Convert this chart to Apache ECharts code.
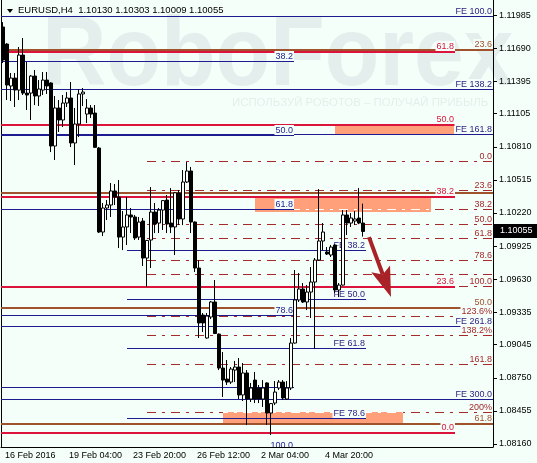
<!DOCTYPE html>
<html><head><meta charset="utf-8">
<script src="https://cdn.jsdelivr.net/npm/echarts@6/dist/echarts.min.js"></script>
<style>html,body{margin:0;padding:0;background:#F5FFFA}#c{width:537px;height:463px}</style>
</head><body><div id="c"></div>
<script>
// ---------- DATA ----------
const symbolName = 'EURUSD,H4';
const lastQuote = ['1.10130', '1.10303', '1.10009', '1.10055'];

const open = [1.11878,1.11726,1.11352,1.11423,1.11316,1.11628,1.11289,1.11289,1.11441,1.11263,
1.11316,1.11405,1.11379,1.10817,1.11156,1.11049,1.11200,1.11245,1.10844,1.11013,
1.11281,1.11102,1.11156,1.11111,1.10799,1.10050,1.10264,1.10291,1.10416,1.10362,
1.10005,1.10095,1.10202,1.10184,1.10005,1.10148,1.09818,1.09979,1.10228,1.10130,
1.10246,1.10335,1.10130,1.10095,1.10398,1.10166,1.10496,1.10594,1.10139,1.09729,
1.09310,1.09105,1.09292,1.09426,1.09140,1.08837,1.08739,1.08712,1.08819,1.08846,
1.08597,1.08793,1.08561,1.08730,1.08659,1.08561,1.08704,1.08436,1.08525,1.08659,
1.08712,1.08561,1.08659,1.09060,1.09444,1.09542,1.09426,1.09515,1.09604,1.09800,
1.09970,1.09872,1.09845,1.09934,1.09533,1.09577,1.10202,1.10130,1.10148,1.10175,
1.10130];
const high = [1.11922,1.11735,1.11468,1.11468,1.11700,1.11780,1.11566,1.11450,1.11495,1.11405,
1.11477,1.11477,1.11385,1.11263,1.11227,1.11272,1.11298,1.11388,1.11156,1.11325,
1.11334,1.11236,1.11182,1.11182,1.10808,1.10309,1.10335,1.10487,1.10478,1.10514,
1.10237,1.10362,1.10264,1.10202,1.10184,1.10175,1.09979,1.10451,1.10309,1.10264,
1.10335,1.10380,1.10442,1.10407,1.10425,1.10603,1.10674,1.10630,1.10145,1.09800,
1.09328,1.09328,1.09435,1.09622,1.09145,1.08980,1.08909,1.08846,1.08900,1.08926,
1.08882,1.08819,1.08704,1.08802,1.08686,1.08730,1.08710,1.08525,1.08721,1.08730,
1.08730,1.08721,1.09105,1.09711,1.09684,1.09595,1.09577,1.09738,1.09818,1.10433,
1.10130,1.09916,1.09934,1.09940,1.09595,1.10246,1.10246,1.10219,1.10237,1.10442,
1.10303];
const low = [1.11557,1.11227,1.11218,1.11165,1.11227,1.11272,1.11138,1.11049,1.11182,1.11174,
1.11272,1.11281,1.10763,1.10692,1.10942,1.10986,1.11165,1.10808,1.10647,1.10897,
1.11174,1.11022,1.11067,1.10799,1.10041,1.10014,1.10157,1.10184,1.10291,1.09907,
1.09889,1.09934,1.10041,1.09979,1.09979,1.09747,1.09560,1.09729,1.10041,1.10041,
1.10068,1.10041,1.10041,1.09845,1.10112,1.10112,1.10487,1.10041,1.09693,1.09105,
1.09158,1.09100,1.09274,1.09140,1.08819,1.08579,1.08686,1.08695,1.08712,1.08561,
1.08543,1.08329,1.08534,1.08525,1.08525,1.08490,1.08329,1.08240,1.08507,1.08641,
1.08552,1.08552,1.08641,1.09055,1.09426,1.09417,1.09354,1.09283,1.09007,1.09795,
1.09889,1.09845,1.09827,1.09506,1.09470,1.09572,1.10023,1.10095,1.10112,1.10120,
1.10009];
const close = [1.11584,1.11361,1.11423,1.11316,1.11628,1.11289,1.11272,1.11441,1.11263,1.11325,
1.11405,1.11352,1.10817,1.11156,1.11049,1.11200,1.11245,1.10844,1.11013,1.11281,
1.11298,1.11156,1.11102,1.10805,1.10050,1.10264,1.10291,1.10416,1.10362,1.10005,
1.10095,1.10202,1.10184,1.09997,1.10139,1.09818,1.09975,1.10228,1.10121,1.10246,
1.10330,1.10121,1.10095,1.10400,1.10166,1.10496,1.10594,1.10139,1.09729,1.09239,
1.09239,1.09301,1.09426,1.09145,1.08837,1.08730,1.08712,1.08828,1.08846,1.08597,
1.08793,1.08561,1.08659,1.08561,1.08561,1.08659,1.08436,1.08520,1.08623,1.08712,
1.08570,1.08659,1.09060,1.09444,1.09542,1.09426,1.09515,1.09604,1.09800,1.09970,
1.10050,1.09854,1.09916,1.09533,1.09577,1.10202,1.10130,1.10175,1.10166,1.10130,
1.10055];

const barSlots = 123;              // visible bar slots (incl. right shift)
const priceMin = 1.08133, priceMax = 1.12119;
const xTickIndex  = [0, 16, 32, 48, 64, 80];
const xTickLabels = ['16 Feb 2016', '19 Feb 04:00', '23 Feb 20:00', '26 Feb 12:00', '2 Mar 04:00', '4 Mar 20:00'];
const yTickValues = [1.08160, 1.08455, 1.08750, 1.09045, 1.09335, 1.09630, 1.09925, 1.10220, 1.10515, 1.10810, 1.11105, 1.11395, 1.11690, 1.11985];

// Fibonacci objects: [startBar, endBar, price at 0%, price at 100%]
const brownFibo  = [0, 123, 1.13732, 1.05009];
const brownLevels = [23.6, 38.2, 50, 61.8];
const brownLabels = ['23.6', '', '50.0', '61.8'];

const redFibo  = [0, 113.5, 1.08260, 1.13754];
const redLevels = [0, 23.6, 38.2, 50, 61.8];
const redLabels = ['0.0', '23.6', '38.2', '50.0', '61.8'];

const navyFibo  = [0, 73.25, 1.13715, 1.08105];
const navyLevels = [38.2, 50, 61.8, 78.6, 90, 100];
const navyLabels = ['38.2', '50.0', '61.8', '78.6', '', '100.0'];

const dashFibo  = [36.5, 123, 1.10683, 1.09560];
const dashLevels = [0, 23.6, 38.2, 50, 61.8, 78.6, 90, 100, 123.6, 138.2, 161.8, 200];
const dashLabels = ['0.0', '23.6', '38.2', '50.0', '61.8', '78.6', '', '100.0', '123.6%', '138.2%', '161.8', '200%'];

const feLongDef    = [0, 123, 1.13685, 1.11976];
const feLongLevels = [100, 138.2, 161.8, 261.8, 300];
const feLongLabels = ['FE 100.0', 'FE 138.2', 'FE 161.8', 'FE 261.8', 'FE 300.0'];

const feShortDef    = [31.5, 91.25, 1.11310, 1.07590];
const feShortLevels = [38.2, 50, 61.8, 78.6];
const feShortLabels = ['FE 38.2', 'FE 50.0', 'FE 61.8', 'FE 78.6'];

// zones: [startBar, endBar, top price, bottom price]
const zones = [
  [83.5, 113.25, 1.11006, 1.10915],
  [63.5, 107.5, 1.10371, 1.10233],
  [55.5, 100.5, 1.08442, 1.08335]
];
// arrow: [startBar, startPrice, endBar, endPrice]
const arrowDef = [92, 1.10005, 97.5, 1.09470];

const watermark = 'RoboForex';
const watermarkSub = 'ИСПОЛЬЗУЙ РОБОТОВ – ПОЛУЧАЙ ПРИБЫЛЬ';

// ---------- STYLE ----------
const BG = '#F5FFFA';
const FONT = '"Liberation Sans", Arial, sans-serif';
const NAVY = '#1C1C90';
const styleOf = {
  dash:    {color: '#A52A2A', width: 1, dash: [9, 6, 3, 6], label: '#A52A2A'},
  navy:    {color: NAVY, width: 1, dash: null, label: NAVY},
  feLong:  {color: NAVY, width: 1, dash: null, label: '#2A1A80'},
  feShort: {color: NAVY, width: 1, dash: null, label: '#2A1A80'},
  brown:   {color: '#A0522D', width: 2, dash: null, label: '#A0522D'},
  red:     {color: '#DC143C', width: 2, dash: null, label: '#DC143C'}
};
const sets = [
  {key: 'dash', def: dashFibo, levels: dashLevels, labels: dashLabels},
  {key: 'navy', def: navyFibo, levels: navyLevels, labels: navyLabels},
  {key: 'feLong', def: feLongDef, levels: feLongLevels, labels: feLongLabels},
  {key: 'feShort', def: feShortDef, levels: feShortLevels, labels: feShortLabels},
  {key: 'brown', def: brownFibo, levels: brownLevels, labels: brownLabels},
  {key: 'red', def: redFibo, levels: redLevels, labels: redLabels}
];

function crispY(y, w) { return (w % 2 === 1) ? Math.floor(y) + 0.5 : Math.round(y); }

const series = [];

series.push({
  type: 'custom', name: 'zones', xAxisIndex: 1, yAxisIndex: 0, z: 1, clip: true, silent: true,
  data: zones, encode: {x: [0, 1], y: [2, 3]},
  renderItem: function (params, api) {
    const a = api.coord([api.value(0), api.value(2)]);
    const b = api.coord([api.value(1), api.value(3)]);
    const x0 = Math.round(a[0]), x1 = Math.round(b[0]), y0 = Math.round(a[1]), y1 = Math.round(b[1]);
    return {type: 'rect', shape: {x: x0, y: y0, width: x1 - x0, height: y1 - y0}, style: {fill: '#FFA07A'}};
  }
});

sets.forEach(function (s) {
  const st = styleOf[s.key];
  const d = s.def;
  const data = s.levels.map(function (r, i) { return [d[0], d[1], d[2] + (d[3] - d[2]) * r / 100, i]; });
  series.push({
    type: 'custom', name: s.key + '-lines', xAxisIndex: 1, yAxisIndex: 0, z: 2, clip: true, silent: true,
    data: data, encode: {x: [0, 1], y: 2},
    renderItem: function (params, api) {
      const p = api.value(2);
      const a = api.coord([api.value(0), p]);
      const b = api.coord([api.value(1), p]);
      const y = crispY(a[1], st.width);
      const children = [{type: 'line', shape: {x1: a[0], y1: y, x2: b[0], y2: y},
        style: {stroke: st.color, lineWidth: st.width, lineDash: st.dash}}];
      if (st.dash) {
        zones.forEach(function (z) {
          const za = api.coord([z[0], z[2]]), zb = api.coord([z[1], z[3]]);
          if (y >= za[1] - 0.5 && y <= zb[1] + 0.5) {
            const x0 = Math.max(a[0], za[0]), x1 = Math.min(b[0], zb[0]);
            if (x1 > x0) {
              children.push({type: 'line', shape: {x1: x0, y1: y, x2: x1, y2: y},
                style: {stroke: '#FFFFFF', lineWidth: st.width, lineDash: st.dash, lineDashOffset: x0 - a[0]}});
            }
          }
        });
      }
      return {type: 'group', children: children};
    }
  });
});
sets.forEach(function (s) {
  const st = styleOf[s.key];
  const d = s.def;
  const data = [];
  s.levels.forEach(function (r, i) { if (s.labels[i]) data.push([d[0], d[1], d[2] + (d[3] - d[2]) * r / 100, i]); });
  series.push({
    type: 'custom', name: s.key + '-labels', xAxisIndex: 1, yAxisIndex: 0, z: 3, clip: true, silent: true,
    data: data, encode: {x: [0, 1], y: 2},
    renderItem: function (params, api) {
      const p = api.value(2);
      const b = api.coord([api.value(1), p]);
      const y = crispY(b[1], st.width) - st.width / 2;
      return {type: 'text', x: Math.round(b[0]), y: Math.round(y),
        style: {text: s.labels[api.value(3)], align: 'right', verticalAlign: 'bottom',
          fill: st.label, font: '9px ' + FONT, backgroundColor: BG, padding: [1, 1, 0, 1]}};
    }
  });
});

series.push({
  type: 'candlestick', name: 'EURUSD', xAxisIndex: 0, yAxisIndex: 0, z: 4, barWidth: 3, silent: true,
  data: open.map(function (o, i) { return [o, close[i], low[i], high[i]]; }),
  itemStyle: {color: '#FFFFFF', color0: '#000000', borderColor: '#000000', borderColor0: '#000000', borderWidth: 1}
});

series.push({
  type: 'custom', name: 'arrow', xAxisIndex: 1, yAxisIndex: 0, z: 5, silent: true,
  data: [arrowDef], encode: {x: [0, 2], y: [1, 3]},
  renderItem: function (params, api) {
    const s = api.coord([api.value(0), api.value(1)]);
    const t = api.coord([api.value(2), api.value(3)]);
    const dx = t[0] - s[0], dy = t[1] - s[1], L = Math.sqrt(dx * dx + dy * dy);
    const ux = dx / L, uy = dy / L, nx = -uy, ny = ux;
    const hl = 30, hw = 10;
    const bx = t[0] - ux * hl, by = t[1] - uy * hl;
    const mx = t[0] - ux * (hl - 6), my = t[1] - uy * (hl - 6);
    const col = '#A82228';
    return {type: 'group', children: [
      {type: 'line', shape: {x1: s[0], y1: s[1], x2: mx, y2: my}, style: {stroke: col, lineWidth: 4}},
      {type: 'polygon', shape: {points: [[t[0], t[1]], [bx + nx * hw, by + ny * hw], [mx, my], [bx - nx * hw, by - ny * hw]]}, style: {fill: col}}
    ]};
  }
});

const chart = echarts.init(document.getElementById('c'), null, {renderer: 'canvas', width: 537, height: 463});
const slots = Array.from({length: barSlots}, function (_, i) { return String(i); });
const showTick = function (idx) { return xTickIndex.indexOf(idx) >= 0; };

chart.setOption({
  animation: false,
  backgroundColor: BG,
  grid: {left: 1, right: 44, top: 0, bottom: 16, containLabel: false},
  xAxis: [
    {type: 'category', data: slots, boundaryGap: true,
      axisLine: {onZero: false, lineStyle: {color: '#000', width: 1}},
      axisTick: {alignWithLabel: true, interval: showTick, length: 4, lineStyle: {color: '#000'}},
      axisLabel: {interval: showTick, margin: 4, align: 'left', padding: [0, 0, 0, 2], color: '#000', fontSize: 9, fontFamily: FONT,
        formatter: function (v, idx) { const k = xTickIndex.indexOf(idx); return k >= 0 ? xTickLabels[k] : ''; }},
      splitLine: {show: false}},
    {type: 'value', min: 0, max: barSlots, show: false}
  ],
  yAxis: [
    {type: 'value', position: 'right', min: priceMin, max: priceMax, scale: true,
      axisLine: {show: true, onZero: false, lineStyle: {color: '#000', width: 1}},
      axisTick: {show: true, length: 4, customValues: yTickValues, lineStyle: {color: '#000'}},
      axisLabel: {customValues: yTickValues, margin: 6, color: '#000', fontSize: 9, fontFamily: FONT,
        formatter: function (v) { return v.toFixed(5); }},
      splitLine: {show: false}},
    {type: 'value', position: 'left', min: priceMin, max: priceMax, scale: true,
      axisLine: {show: true, onZero: false, lineStyle: {color: '#000', width: 1}},
      axisTick: {show: false}, axisLabel: {show: false}, splitLine: {show: false}}
  ],
  graphic: [
    {type: 'text', id: 'wm', x: 42, y: 58, z: 0, silent: true, scaleX: 0.95, scaleY: 1.04,
      style: {text: watermark, font: 'bold 94px ' + FONT, fill: '#E3EEED', verticalAlign: 'middle', align: 'left'}},
    {type: 'text', id: 'wm2', x: 232, y: 103, z: 0, silent: true,
      style: {text: watermarkSub, font: '11.4px ' + FONT, fill: '#E4EEED', verticalAlign: 'middle', align: 'left'}},
    {type: 'polygon', id: 'tri', z: 10, shape: {points: [[7, 9], [13, 9], [10, 13]]}, style: {fill: '#000'}},
    {type: 'text', id: 'title', x: 18, y: 10, z: 10,
      style: {text: symbolName + '  ' + lastQuote.join(' '), font: '9.5px ' + FONT, fill: '#000', verticalAlign: 'middle'}}
  ],
  series: series
});

const lastClose = close[close.length - 1];
const py = Math.round(chart.convertToPixel({yAxisIndex: 0}, lastClose));
chart.setOption({graphic: [
  {type: 'rect', id: 'ptag', z: 20, shape: {x: 494, y: py - 7, width: 43, height: 14}, style: {fill: '#000'}},
  {type: 'text', id: 'ptagt', z: 21, x: 500, y: py, style: {text: lastClose.toFixed(5), font: '9px ' + FONT, fill: '#FFF', verticalAlign: 'middle'}}
]});
</script>
</body></html>
